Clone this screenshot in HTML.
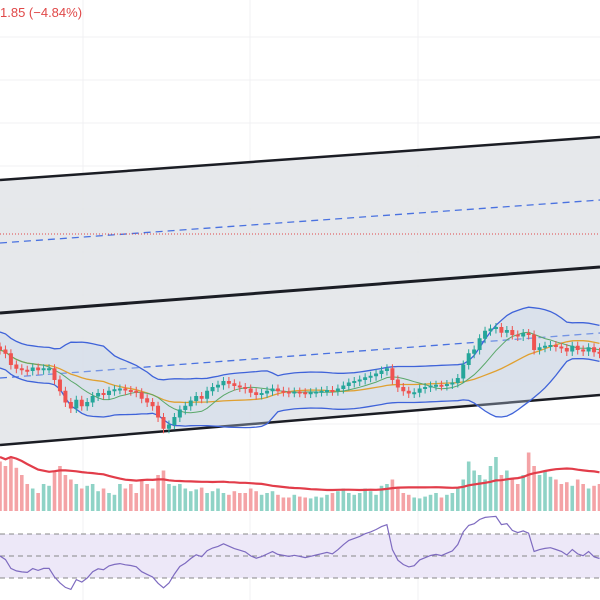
<!DOCTYPE html>
<html><head><meta charset="utf-8"><style>
html,body{margin:0;padding:0;background:#fff;width:600px;height:600px;overflow:hidden;font-family:"Liberation Sans",sans-serif}
svg{display:block}
</style></head><body>
<svg id="c" width="600" height="600" xmlns="http://www.w3.org/2000/svg"></svg>
<script>
const closes=[42,41.5,40,39.5,39.3,39.2,39.6,39.3,39.5,39.5,38,36.5,35,34.2,35.3,34.5,35,35.8,36.2,36,36.5,36.7,36.8,36.6,36.5,36.3,35.5,35,34.5,33,31.5,32,33,34,34.5,35.2,35.8,35.5,36.5,37,37.3,37.8,37.5,37.2,37,36.8,36.3,36,36.2,36.5,36.8,36.5,36.4,36.3,36.4,36.3,36.2,36.3,36.4,36.5,36.6,36.5,36.8,37.2,37.6,37.8,38,38.3,38.5,38.8,39.2,39.5,38,37,36.5,36.2,36.3,36.8,37,37.2,37.3,37.2,37.4,37.6,38.2,40,41.5,42,43.5,44.5,44.8,45,44.3,44.6,44,43.8,44.2,44,42,42.3,42.5,42.6,42.4,42.2,41.8,42.5,42,41.8,42.3,41.7,41.5];
const volumes=[55,50,60,48,40,30,25,20,30,28,45,50,40,35,30,25,28,30,22,25,20,18,30,25,30,20,35,30,25,40,45,30,28,30,25,22,24,26,20,22,25,20,18,22,20,20,25,22,18,20,22,18,15,15,18,16,15,14,16,15,18,20,22,25,20,18,20,25,22,18,28,30,35,25,20,18,15,14,16,18,20,15,18,20,25,35,55,45,40,35,50,60,40,45,35,30,40,65,50,40,45,38,35,30,32,28,35,30,25,28,30];
const rsiTicks=[70,50,30];
const svg=document.getElementById('c');
const NS='http://www.w3.org/2000/svg';
function mk(t,a,name){const e=document.createElementNS(NS,t);for(const k in a)e.setAttribute(k,a[k]);


svg.appendChild(e);return e;}
const step=5.45;
const xS=i=>i*step;
const yP=p=>440-(p-30)*7.5;
const yV=v=>511-v*0.9;
const yR=r=>534+(70-r)*(44/40);
[83,250,418].forEach(x=>mk('line',{x1:x,y1:0,x2:x,y2:600,stroke:'#f0f0f3'},'grid-vertical'));
[37,80,123,166,209,252,295,338,381,424].forEach(y=>mk('line',{x1:0,y1:y,x2:600,y2:y,stroke:'#f0f0f3'},'grid-horizontal'));
mk('polygon',{points:'0,180 600,137 600,267 0,313',fill:'#e3e5e9',opacity:0.9},'upper-channel-fill');
mk('polygon',{points:'0,313 600,267 600,395 0,445',fill:'#e3e5e9',opacity:0.9},'lower-channel-fill');
mk('line',{x1:0,y1:180,x2:600,y2:137,stroke:'#1b1d24','stroke-width':2.5},'upper-channel-top');
mk('line',{x1:0,y1:243,x2:600,y2:200,stroke:'#4a72e0','stroke-width':1.3,'stroke-dasharray':'7,5'},'upper-channel-mid');
mk('line',{x1:0,y1:313,x2:600,y2:267,stroke:'#1b1d24','stroke-width':3},'channel-divider');
mk('line',{x1:0,y1:378,x2:600,y2:333,stroke:'#4a72e0','stroke-width':1.3,'stroke-dasharray':'7,5'},'lower-channel-mid');
mk('line',{x1:0,y1:445,x2:600,y2:395,stroke:'#1b1d24','stroke-width':2.5},'lower-channel-bottom');
mk('line',{x1:0,y1:234,x2:600,y2:234,stroke:'#e04848','stroke-width':1,'stroke-dasharray':'1,2'},'price-line');
function sma(a,n,i){let s=0,c=0;for(let j=Math.max(0,i-n+1);j<=i;j++){s+=a[j];c++;}return s/c;}
const N=closes.length;
const bbU=[],bbL=[],m20=[],m9=[];
for(let i=0;i<N;i++){const m=sma(closes,20,i);let v=0,c=0;for(let j=Math.max(0,i-19);j<=i;j++){v+=(closes[j]-m)**2;c++;}const sd=Math.max(Math.sqrt(v/c),1.2);
m20.push(m);m9.push(sma(closes,9,i));bbU.push(m+2*sd);bbL.push(m-2*sd);}
const pts=(arr,f)=>arr.map((v,i)=>xS(i).toFixed(1)+','+f(v).toFixed(1)).join(' ');
mk('polygon',{points:pts(bbU,yP)+' '+bbL.map((v,i)=>xS(i).toFixed(1)+','+yP(v).toFixed(1)).reverse().join(' '),fill:'#c4d4ec',opacity:0.35},'bollinger-fill');
mk('polyline',{points:pts(bbU,yP),fill:'none',stroke:'#3f63d9','stroke-width':1.3},'bollinger-upper');
mk('polyline',{points:pts(bbL,yP),fill:'none',stroke:'#3f63d9','stroke-width':1.3},'bollinger-lower');
mk('polyline',{points:pts(m20,yP),fill:'none',stroke:'#e0a030','stroke-width':1.3},'sma-20');
mk('polyline',{points:pts(m9,yP),fill:'none',stroke:'#5aa86a','stroke-width':1},'sma-9');
for(let i=0;i<N;i++){const c=closes[i],o=i?closes[i-1]:c+0.4;const up=c>=o;const col=up?'#26a69a':'#ef5350';
const hi=Math.max(o,c)+0.6,lo=Math.min(o,c)-0.6;const x=xS(i);
mk('line',{x1:x,y1:yP(hi),x2:x,y2:yP(lo),stroke:col,'stroke-width':1},'candle-wick');
const t=yP(Math.max(o,c)),b=yP(Math.min(o,c));
mk('rect',{x:x-2,y:t-0.5,width:4,height:Math.max(b-t,1.5)+0.5,fill:col},'candle-body');}
for(let i=0;i<N;i++){const up=i?closes[i]>=closes[i-1]:false;
mk('rect',{x:xS(i)-1.8,y:yV(volumes[i]),width:3.6,height:511-yV(volumes[i]),fill:up?'#8fd3c6':'#f4a3a6'},'volume-bar');}
const vma=volumes.map((v,i)=>sma(volumes,20,i)+5);
mk('polyline',{points:pts(vma,yV),fill:'none',stroke:'#e23d4a','stroke-width':2.2},'volume-ma');
mk('rect',{x:0,y:yR(70),width:600,height:yR(30)-yR(70),fill:'#ede8f8'},'rsi-band');
rsiTicks.forEach(r=>mk('line',{x1:0,y1:yR(r),x2:600,y2:yR(r),stroke:'#888','stroke-width':1,'stroke-dasharray':'5,4'},'rsi-level'));
const rsi=[];let ag=0.3,al=0.3;
for(let i=0;i<N;i++){const d=i?closes[i]-closes[i-1]:0;ag=(ag*13+Math.max(d,0))/14;al=(al*13+Math.max(-d,0))/14;rsi.push(100-100/(1+ag/al));}
mk('polyline',{points:pts(rsi,yR),fill:'none',stroke:'#7e6bc0','stroke-width':1.2},'rsi-line');
const t=mk('text',{x:0,y:17,fill:'#e04848','font-size':13,'font-family':'Liberation Sans, sans-serif'},'price-change-label');
t.textContent='1.85 (\u22124.84%)';
</script>
</body></html>
